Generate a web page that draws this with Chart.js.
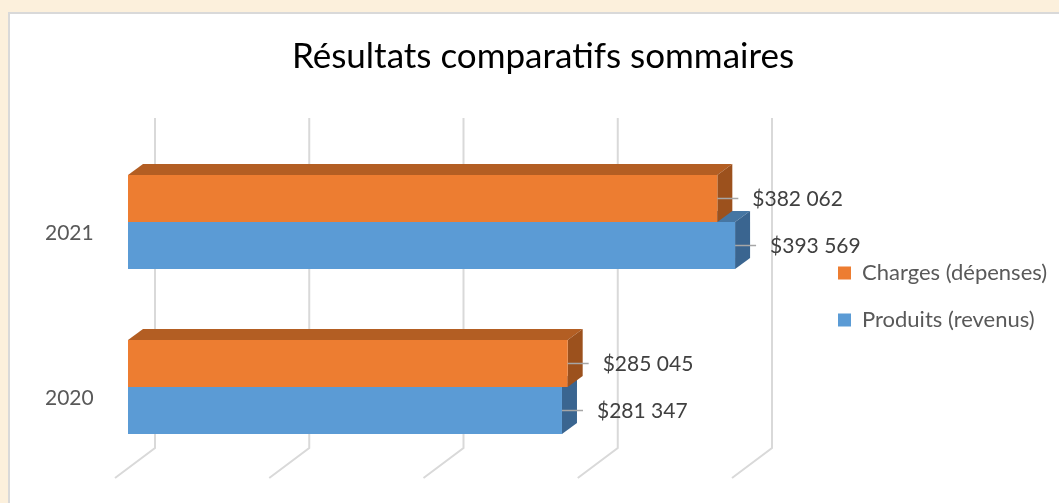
<!DOCTYPE html>
<html>
<head>
<meta charset="utf-8">
<title>Résultats comparatifs sommaires</title>
<script src="https://cdn.jsdelivr.net/npm/chart.js@4.4.1/dist/chart.umd.min.js"></script>
<style>
  body { margin: 0; background: #fcf0dc; overflow: hidden; }
  .panel { position: absolute; left: 8px; top: 12px; width: 1100px; height: 600px;
           background: #fff; border: 2px solid #d9d9d9; }
  #chart { position: absolute; left: 10px; top: 14px; }
</style>
</head>
<body>
<div class="panel"></div>
<canvas id="chart" width="1049" height="489"></canvas>
<script>
// data
var years = ['2021', '2020'];
var charges = [382062, 285045];
var produits = [393569, 281347];

// 3D look, Excel style
var DX = 15, DY = 11;

function money(v) {
    return '$' + String(v).replace(/\B(?=(\d{3})+(?!\d))/g, ' ');
}

function drawDepth(ctx, bar, topColor, sideColor) {
    var t = bar.y - bar.height / 2, b = bar.y + bar.height / 2;
    var l = bar.base, r = bar.x;
    ctx.fillStyle = topColor;
    ctx.beginPath();
    ctx.moveTo(l, t); ctx.lineTo(r, t); ctx.lineTo(r + DX, t - DY); ctx.lineTo(l + DX, t - DY);
    ctx.closePath(); ctx.fill();
    ctx.fillStyle = sideColor;
    ctx.beginPath();
    ctx.moveTo(r, t); ctx.lineTo(r + DX, t - DY); ctx.lineTo(r + DX, b - DY); ctx.lineTo(r, b);
    ctx.closePath(); ctx.fill();
}

var depthPlugin = {
    id: 'depth',
    beforeDatasetsDraw: function(chart) {
        var ctx = chart.ctx, area = chart.chartArea, xs = chart.scales.x;
        ctx.save();
        // walls: back gridlines + floor lines
        ctx.strokeStyle = '#d9d9d9';
        ctx.lineWidth = 2;
        xs.ticks.forEach(function(tk) {
            var px = xs.getPixelForValue(tk.value);
            ctx.beginPath();
            ctx.moveTo(px + 27, area.top - 21.5);
            ctx.lineTo(px + 27, area.bottom - 21.5);
            ctx.lineTo(px - 13, area.bottom + 8.5);
            ctx.stroke();
        });
        // lower series first so the upper one covers it
        var shades = [['#b35e23', '#9c511d'], ['#4676a3', '#3a6590']];
        [1, 0].forEach(function(i) {
            chart.getDatasetMeta(i).data.forEach(function(bar) {
                drawDepth(ctx, bar, shades[i][0], shades[i][1]);
            });
        });
        ctx.restore();
    },
    afterDatasetsDraw: function(chart) {
        var ctx = chart.ctx;
        ctx.save();
        ctx.font = '21px Lato';
        ctx.textBaseline = 'middle';
        chart.data.datasets.forEach(function(ds, i) {
            chart.getDatasetMeta(i).data.forEach(function(bar, j) {
                ctx.strokeStyle = '#a6a6a6';
                ctx.lineWidth = 1.5;
                ctx.beginPath();
                ctx.moveTo(bar.x, bar.y);
                ctx.lineTo(bar.x + 21, bar.y);
                ctx.stroke();
                ctx.fillStyle = '#404040';
                ctx.fillText(money(ds.data[j]), bar.x + 35, bar.y + 1);
            });
        });
        ctx.restore();
    }
};

// legend kept apart from the plot like in the original
var legendPlace = {
    id: 'legendPlace',
    afterInit: function(chart) {
        var lg = chart.legend, fit = lg.fit;
        lg.fit = function() { fit.call(this); this.width = 296; };
    },
    afterLayout: function(chart) {
        var lg = chart.legend;
        lg.left += 68;
        lg.right = chart.width;
        lg.top -= 8;
        lg.bottom -= 8;
    }
};

var ctx = document.getElementById('chart').getContext('2d');
var chart = new Chart(ctx, {
    type: 'bar',
    data: {
        labels: years,
        datasets: [{
            label: 'Charges (dépenses)',
            data: charges,
            backgroundColor: '#ed7d31',
            borderWidth: 0
        }, {
            label: 'Produits (revenus)',
            data: produits,
            backgroundColor: '#5b9bd5',
            borderWidth: 0
        }]
    },
    options: {
        indexAxis: 'y',
        responsive: false,
        animation: false,
        categoryPercentage: 0.57,
        barPercentage: 1,
        layout: { padding: { left: 35, right: 18, top: 0, bottom: 33.5 } },
        scales: {
            x: {
                display: false,
                min: 0,
                max: 400000,
                ticks: { stepSize: 100000 }
            },
            y: {
                grid: { display: false, drawTicks: false },
                border: { display: false },
                ticks: {
                    padding: 0,
                    crossAlign: 'far',
                    labelOffset: 11,
                    color: '#595959',
                    font: { family: 'Lato', size: 21 }
                },
                afterFit: function(s) { s.width = 83; }
            }
        },
        plugins: {
            title: {
                display: true,
                text: 'Résultats comparatifs sommaires',
                color: '#000',
                font: { family: 'Lato', size: 35, weight: 'normal' },
                padding: { top: 22, bottom: 61.5 }
            },
            legend: {
                position: 'right',
                fullSize: false,
                labels: {
                    boxWidth: 13,
                    boxHeight: 13,
                    padding: 25,
                    color: '#595959',
                    font: { family: 'Lato', size: 22 }
                }
            },
            tooltip: { enabled: false }
        }
    },
    plugins: [depthPlugin, legendPlace]
});
</script>
</body>
</html>
